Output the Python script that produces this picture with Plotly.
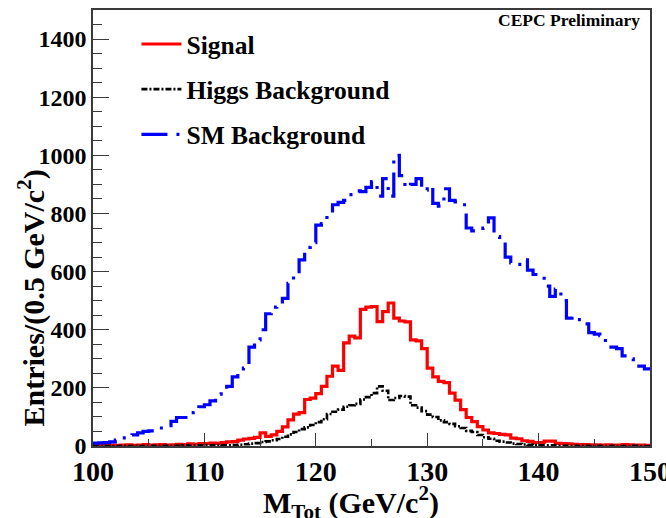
import numpy as np
import plotly.graph_objects as go

# Binning: 100 bins of 0.5 GeV/c^2 from 100 to 150
bin_lo = 100.0
bin_width = 0.5
n_bins = 100

signal = [
    3, 2, 4, 3, 2, 3, 4, 2, 3, 5, 3, 4, 5, 3, 4, 6, 5, 7, 6, 8,
    8, 10, 9, 12, 14, 15, 20, 24, 26, 30, 45, 33, 38, 50, 66, 90, 110, 115, 160, 165,
    180, 205, 240, 275, 260, 355, 378, 372, 470, 478, 480, 428, 462, 492, 440, 430, 427, 365, 362, 335,
    268, 238, 222, 218, 182, 158, 125, 98, 84, 67, 55, 45, 43, 40, 38, 27, 25, 18, 16, 12,
    12, 17, 17, 9, 8, 7, 6, 5, 5, 4, 4, 3, 4, 3, 3, 5, 4, 3, 3, 2,
]

higgs_bkg = [
    0, 0, 1, 0, 0, 1, 0, 1, 0, 1, 1, 0, 1, 1, 1, 1, 2, 1, 2, 2,
    2, 2, 3, 2, 2, 3, 4, 6, 8, 10, 14, 16, 20, 24, 32, 40, 48, 58, 64, 72,
    82, 92, 110, 118, 125, 135, 140, 145, 160, 168, 182, 205, 190, 158, 165, 172, 170, 140, 132, 120,
    108, 100, 88, 82, 76, 68, 62, 52, 48, 38, 30, 25, 18, 15, 12, 8, 7, 5, 4, 3,
    2, 2, 2, 1, 1, 1, 1, 0, 1, 0, 1, 0, 0, 1, 0, 0, 0, 1, 0, 0,
]

sm_bkg = [
    10, 11, 12, 14, 20, 28, 33, 38, 45, 50, 52, 57, 62, 70, 85, 98, 98, 100, 115, 135,
    142, 155, 178, 190, 205, 238, 255, 268, 340, 365, 400, 455, 478, 490, 508, 560, 600, 640, 683, 700,
    760, 765, 800, 830, 838, 845, 865, 878, 875, 890, 910, 860, 920, 860, 1000, 930, 890, 900, 920, 880,
    895, 835, 825, 885, 845, 840, 830, 750, 740, 742, 750, 785, 720, 705, 650, 630, 625, 640, 605, 590,
    586, 550, 515, 540, 500, 440, 445, 435, 420, 390, 385, 380, 350, 340, 335, 310, 300, 290, 275, 265,
]

edges = bin_lo + bin_width * np.arange(n_bins + 1)


def step_xy(counts):
    """Return x/y arrays for an 'hv' step outline covering every bin."""
    y = list(counts) + [counts[-1]]
    return edges, y


FONT = "Liberation Serif"
FRAME = "#3a3a3a"

fig = go.Figure()

series = [
    ("Signal", signal, dict(color="#ff0000", width=3.2, dash="solid")),
    ("Higgs Background", higgs_bkg, dict(color="#000000", width=2.6, dash="6px,2px,2px,2px")),
    ("SM Background", sm_bkg, dict(color="#0000ff", width=3.2, dash="26px,9px,3px,9px")),
]

for i, (name, counts, line) in enumerate(series):
    xs, ys = step_xy(counts)
    fig.add_trace(
        go.Scatter(
            x=xs,
            y=ys,
            mode="lines",
            line=dict(shape="hv", **line),
            name=name,
            legendgroup=f"g{i}",
            hoverinfo="skip",
        )
    )

axis_common = dict(
    showline=True,
    linecolor=FRAME,
    linewidth=1.5,
    mirror=True,
    ticks="inside",
    tickcolor=FRAME,
    tickwidth=1.2,
    showgrid=False,
    zeroline=False,
    automargin=False,
    ticklabeloverflow="allow",
)

fig.update_xaxes(
    range=[100, 150],
    dtick=10,
    tick0=100,
    ticklen=13,
    tickfont=dict(family=FONT, size=28, color="black", weight="bold"),
    minor=dict(dtick=5, ticks="inside", ticklen=7, tickcolor=FRAME, tickwidth=1.2, showgrid=False),
    **axis_common,
)

fig.update_yaxes(
    range=[0, 1500],
    dtick=200,
    tick0=0,
    ticklen=16,
    tickfont=dict(family=FONT, size=24, color="black", weight="bold"),
    minor=dict(dtick=50, ticks="inside", ticklen=9, tickcolor=FRAME, tickwidth=1.2, showgrid=False),
    **axis_common,
)

# Axis titles
fig.add_annotation(
    text="M<sub>Tot</sub> (GeV/c<sup>2</sup>)",
    xref="paper", yref="paper",
    x=0.463, y=-0.075,
    xanchor="center", yanchor="top",
    showarrow=False,
    font=dict(family=FONT, size=30, color="black", weight="bold"),
)
fig.add_annotation(
    text="Entries/(0.5 GeV/c<sup>2</sup>)",
    xref="paper", yref="paper",
    x=-0.11, y=0.34,
    xanchor="center", yanchor="middle",
    textangle=-90,
    showarrow=False,
    font=dict(family=FONT, size=30, color="black", weight="bold"),
)

fig.add_annotation(
    text="CEPC Preliminary",
    xref="paper",
    yref="paper",
    x=0.985,
    y=1.005,
    xanchor="right",
    yanchor="top",
    showarrow=False,
    font=dict(family=FONT, size=17.5, color="black", weight="bold"),
)

fig.update_layout(
    width=666,
    height=518,
    margin=dict(l=93, r=16, t=10, b=72),
    paper_bgcolor="white",
    plot_bgcolor="white",
    showlegend=True,
    legend=dict(
        x=0.078,
        y=0.975,
        xanchor="left",
        yanchor="top",
        bgcolor="rgba(0,0,0,0)",
        font=dict(family=FONT, size=25.5, color="black", weight="bold"),
        tracegroupgap=9,
        traceorder="grouped",
        itemwidth=40,
    ),
)

fig.write_html("out.html")
